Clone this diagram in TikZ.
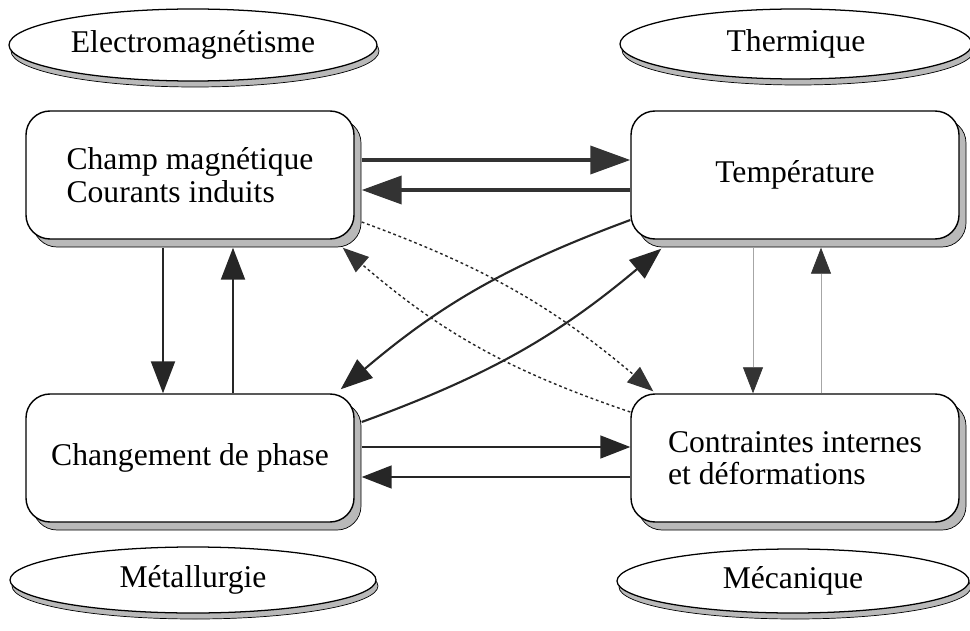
\documentclass[tikz,border=0pt]{standalone}
\usepackage{fontspec}
\setmainfont{Liberation Serif}
\usetikzlibrary{shapes.geometric, shadows, arrows.meta, positioning, calc}

\begin{document}
\begin{tikzpicture}[
  >={Triangle[length=7.5mm, width=5.75mm]},
  every node/.style={font=\fontsize{22.5}{23}\selectfont},
  box/.style={draw, line width=1pt, fill=white, rounded corners=6mm,
    minimum width=8.2cm, minimum height=3.2cm, align=left,
    drop shadow={shadow xshift=1.75mm, shadow yshift=-2mm, fill=gray!55,
      draw=black, line width=0.5pt, opacity=1}},
  field/.style={ellipse, draw, line width=0.9pt, fill=white, inner sep=0pt,
    drop shadow={shadow xshift=0.5mm, shadow yshift=-1.5mm, fill=gray!55,
      draw=black, line width=0.5pt, opacity=1}},
  heavy/.style={->, line width=2.6pt, draw=black!80, >={Triangle[length=1cm, width=7mm]}},
  medium/.style={->, line width=1.5pt, draw=black!85, >={Triangle[length=8mm, width=6mm]}},
  link/.style={->, line width=1.5pt, draw=black!85, >={Triangle[length=8mm, width=6mm]}},
  plain/.style={->, line width=1.1pt, draw=black!85},
  light/.style={->, line width=0.5pt, draw=gray!70, >={Triangle[length=6.5mm, width=5mm, color=black!80]}},
  hint/.style={->, line width=1pt, draw=black!85, dash pattern=on 2pt off 2pt,
    >={Triangle[length=6.5mm, width=5mm, color=black!80]}}
  ]
  \useasboundingbox (0,0) rectangle (24.25,15.75);
  % domains
  \node[field, minimum width=9.2cm, minimum height=1.8cm] (electro) at (4.825,14.625) {Electromagnétisme};
  \node[field, minimum width=8.8cm, minimum height=1.75cm] (thermal) at (19.9,14.65) {Thermique};
  \node[field, minimum width=9.15cm, minimum height=1.65cm] (metal) at (4.825,1.25) {Métallurgie};
  \node[field, minimum width=8.8cm, minimum height=1.6cm] (meca) at (19.825,1.225) {Mécanique};
  % quantities
  \node[box] (champ) at (4.75,11.375) {Champ magnétique\\Courants induits};
  \node[box] (temp) at (19.875,11.375) {Température};
  \node[box] (phase) at (4.75,4.3) {Changement de phase};
  \node[box] (stress) at (19.875,4.3) {Contraintes internes\\et déformations};
  % couplings
  \draw[heavy] ([xshift=1.75mm, yshift=3.75mm]champ.east) -- ([yshift=3.75mm]temp.west);
  \draw[heavy] ([yshift=-3.75mm]temp.west) -- ([xshift=1.75mm, yshift=-3.75mm]champ.east);
  \draw[medium] ([xshift=-6.75mm, yshift=-2mm]champ.south) -- ([xshift=-6.75mm]phase.north);
  \draw[medium] ([xshift=10.75mm]phase.north) -- ([xshift=10.75mm, yshift=-2mm]champ.south);
  \draw[light] ([xshift=-10.5mm, yshift=-2mm]temp.south) -- ([xshift=-10.5mm]stress.north);
  \draw[light] ([xshift=6.5mm]stress.north) -- ([xshift=6.5mm, yshift=-2mm]temp.south);
  \draw[plain] ([xshift=1.75mm, yshift=2.75mm]phase.east) -- ([yshift=2.75mm]stress.west);
  \draw[plain] ([yshift=-4.75mm]stress.west) -- ([xshift=1.75mm, yshift=-4.75mm]phase.east);
  \draw[link] ([yshift=-11.25mm]temp.west) to[bend right=10] ([xshift=-3.5mm, yshift=1mm]phase.north east);
  \draw[link] ([xshift=1.75mm, yshift=9mm]phase.east) to[bend right=10] ([xshift=7.75mm, yshift=-2.25mm]temp.south west);
  \draw[hint] ([xshift=1.75mm, yshift=-11.75mm]champ.east) to[bend left=10] ([xshift=5.75mm, yshift=0.5mm]stress.north west);
  \draw[hint] ([yshift=11.5mm]stress.west) to[bend left=11] ([xshift=-3mm, yshift=-2mm]champ.south east);
\end{tikzpicture}
\end{document}
